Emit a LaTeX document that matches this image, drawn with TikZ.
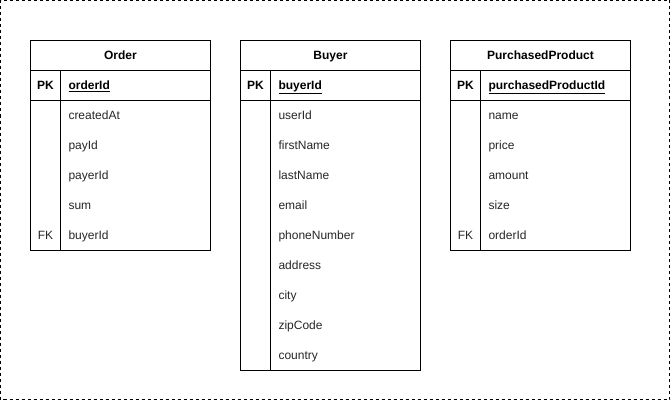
\documentclass[tikz,border=0pt]{standalone}
\usepackage{fontspec}
\setmainfont{Liberation Sans}
\begin{document}
\begin{tikzpicture}[x=1pt,y=-1pt,
  font=\fontsize{12}{14}\selectfont,
  line width=1pt,
  cell/.style={draw=black, minimum width=180pt, minimum height=30pt, anchor=north west, inner sep=0pt, outer sep=0pt},
  keytxt/.style={anchor=center, inner sep=0pt, text height=10pt, text depth=2pt, font=\fontsize{12}{14}\selectfont\bfseries},
  fieldtxt/.style={anchor=west, inner sep=0pt, text height=10pt, text depth=2pt, text=black!85},
  frame/.style={draw=black, line width=1pt, dash pattern=on 3pt off 3pt}]
\useasboundingbox (0,0) rectangle (671,401);
\draw[frame] (0.5,0.5) rectangle (669.5,399.5);

% ---------- Order ----------
\node[cell, text height=10pt, text depth=2pt] (orderHead) at (30.5,40.5) {\bfseries Order};
\node[cell] (orderPK) at (30.5,70.5) {};
\node[cell, minimum height=150pt] (orderBody) at (30.5,100.5) {};
\draw (60.5,70.5) -- (60.5,250.5);
\node[keytxt] (orderPKl) at (45.5,85.5) {PK};
\node[fieldtxt, text=black, font=\fontsize{12}{14}\selectfont\bfseries] (orderPKf) at (68,85.5) {\underline{orderId}};
\foreach \t [count=\i] in {createdAt,payId,payerId,sum,buyerId}
  \node[fieldtxt] (orderF\i) at (68,{85.5+30*\i}) {\t};
\node[keytxt, font=\fontsize{12}{14}\selectfont, text=black!85] (orderFK) at (45.5,235.5) {FK};

% ---------- Buyer ----------
\node[cell, text height=10pt, text depth=2pt] (buyerHead) at (240.5,40.5) {\bfseries Buyer};
\node[cell] (buyerPK) at (240.5,70.5) {};
\node[cell, minimum height=270pt] (buyerBody) at (240.5,100.5) {};
\draw (270.5,70.5) -- (270.5,370.5);
\node[keytxt] (buyerPKl) at (255.5,85.5) {PK};
\node[fieldtxt, text=black, font=\fontsize{12}{14}\selectfont\bfseries] (buyerPKf) at (278,85.5) {\underline{buyerId}};
\foreach \t [count=\i] in {userId,firstName,lastName,email,phoneNumber,address,city,zipCode,country}
  \node[fieldtxt] (buyerF\i) at (278,{85.5+30*\i}) {\t};

% ---------- PurchasedProduct ----------
\node[cell, text height=10pt, text depth=2pt] (ppHead) at (450.5,40.5) {\bfseries PurchasedProduct};
\node[cell] (ppPK) at (450.5,70.5) {};
\node[cell, minimum height=150pt] (ppBody) at (450.5,100.5) {};
\draw (480.5,70.5) -- (480.5,250.5);
\node[keytxt] (ppPKl) at (465.5,85.5) {PK};
\node[fieldtxt, text=black, font=\fontsize{12}{14}\selectfont\bfseries] (ppPKf) at (488,85.5) {\underline{purchasedProductId}};
\foreach \t [count=\i] in {name,price,amount,size,orderId}
  \node[fieldtxt] (ppF\i) at (488,{85.5+30*\i}) {\t};
\node[keytxt, font=\fontsize{12}{14}\selectfont, text=black!85] (ppFK) at (465.5,235.5) {FK};
\end{tikzpicture}
\end{document}
